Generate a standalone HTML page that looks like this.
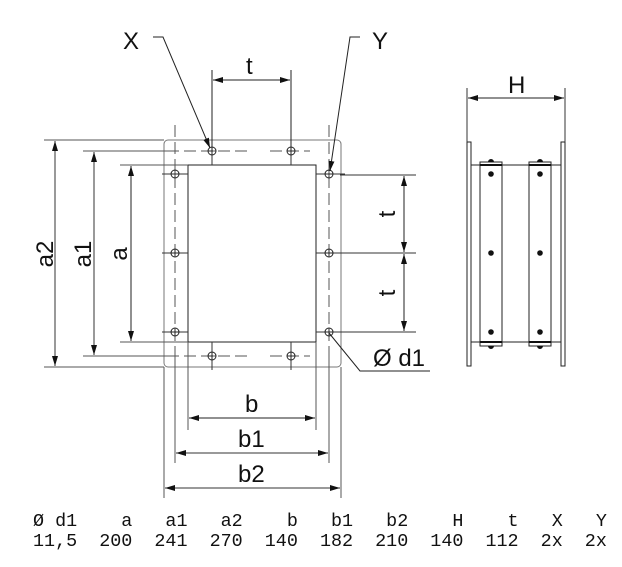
<!DOCTYPE html>
<html><head><style>
html,body{margin:0;padding:0;background:#fff}
svg{display:block}
text{font-family:"Liberation Sans",sans-serif;fill:#111}
.m{font-family:"Liberation Mono",monospace;font-size:18.4px;white-space:pre}
</style></head><body>
<svg width="622" height="567" viewBox="0 0 622 567" xmlns="http://www.w3.org/2000/svg">
<defs>
<marker id="ar" viewBox="0 0 10 6" refX="10" refY="3" markerWidth="10" markerHeight="6" orient="auto-start-reverse" markerUnits="userSpaceOnUse"><path d="M0,0L10,3L0,6z" fill="#111"/></marker>
<g id="h"><circle r="4" fill="none" stroke="#222" stroke-width="1"/><path d="M-4,0H4M0,-4V4" stroke="#222" stroke-width="0.8"/></g>
</defs>
<g fill="none" stroke-width="1">
<rect x="164" y="140" width="177" height="227" rx="4" stroke="#777"/>
<rect x="188" y="165" width="128" height="177" stroke="#222"/>
<g stroke="#555" stroke-dasharray="12,5">
<path d="M150,151H250M270,151H310M150,356H250M270,356H310"/>
<path d="M175,125V380M329,125V380"/>
</g>
<g stroke="#333">
<path d="M162,174H188M316,174H345M162,253H188M316,253H345M162,332H188M316,332H345"/>
<path d="M212,140V165M291,140V165M212,342V370M291,342V370"/>
</g>
<path d="M44,140H164M83,151H175M120,165H188M44,367H164M83,356H175M120,342H188" stroke="#555"/>
<path d="M55,141V366" stroke="#333" marker-start="url(#ar)" marker-end="url(#ar)"/>
<path d="M94,152V355" stroke="#333" marker-start="url(#ar)" marker-end="url(#ar)"/>
<path d="M131,166V341" stroke="#222" marker-start="url(#ar)" marker-end="url(#ar)"/>
<path d="M188,342V430M316,342V430M175,356V463M329,356V463M164,367V498M341,367V498" stroke="#555"/>
<path d="M189,418H315" stroke="#222" marker-start="url(#ar)" marker-end="url(#ar)"/>
<path d="M176,453H328" stroke="#333" marker-start="url(#ar)" marker-end="url(#ar)"/>
<path d="M165,488H340" stroke="#333" marker-start="url(#ar)" marker-end="url(#ar)"/>
<path d="M212,70V151M291,70V151" stroke="#222"/>
<path d="M213,80H290" stroke="#222" marker-start="url(#ar)" marker-end="url(#ar)"/>
<path d="M340,175H416M340,253H416M340,332H416" stroke="#333"/>
<path d="M404,176V252" stroke="#222" marker-start="url(#ar)" marker-end="url(#ar)"/>
<path d="M404,254V331" stroke="#222" marker-start="url(#ar)" marker-end="url(#ar)"/>
<path d="M153,37H163L210,148" stroke="#222" marker-end="url(#ar)"/>
<path d="M360,37H350L330,171" stroke="#222" marker-end="url(#ar)"/>
<path d="M329,333L360,371H430" stroke="#222"/>
<rect x="467" y="142" width="4" height="224" stroke="#222"/>
<rect x="561" y="142" width="4" height="224" stroke="#222"/>
<path d="M471,165H561M471,342H561" stroke="#222"/>
<rect x="480" y="162" width="22" height="184" stroke="#222" fill="#fff"/>
<rect x="529" y="162" width="22" height="184" stroke="#222" fill="#fff"/>
<path d="M480,165H502M529,165H551M480,342H502M529,342H551" stroke="#111" stroke-width="2"/>
<path d="M467,88V142M565,88V142" stroke="#333"/>
<path d="M468,98H564" stroke="#222" marker-start="url(#ar)" marker-end="url(#ar)"/>
</g>
<g fill="#111">
<circle cx="491" cy="174" r="2.8"/><circle cx="491" cy="253" r="2.8"/><circle cx="491" cy="332" r="2.8"/>
<circle cx="540" cy="174" r="2.8"/><circle cx="540" cy="253" r="2.8"/><circle cx="540" cy="332" r="2.8"/>
<path d="M488,162a3,3 0 0 1 6,0zM537,162a3,3 0 0 1 6,0zM488,346a3,3 0 0 0 6,0zM537,346a3,3 0 0 0 6,0z"/>
</g>
<use href="#h" x="212" y="151"/><use href="#h" x="291" y="151"/>
<use href="#h" x="212" y="356"/><use href="#h" x="291" y="356"/>
<use href="#h" x="175" y="174"/><use href="#h" x="175" y="253"/><use href="#h" x="175" y="332"/>
<use href="#h" x="329" y="174"/><use href="#h" x="329" y="253"/><use href="#h" x="329" y="332"/>
<g font-size="24">
<text x="123" y="49">X</text>
<text x="372" y="49">Y</text>
<text x="246" y="74">t</text>
<text x="508" y="93">H</text>
<text x="245" y="412">b</text>
<text x="238" y="447">b1</text>
<text x="238" y="482">b2</text>
<text x="373" y="366">Ø d1</text>
<text transform="translate(53,254) rotate(-90)" text-anchor="middle">a2</text>
<text transform="translate(91,254) rotate(-90)" text-anchor="middle">a1</text>
<text transform="translate(127,254) rotate(-90)" text-anchor="middle">a</text>
<text transform="translate(395,214) rotate(-90)" text-anchor="middle">t</text>
<text transform="translate(395,293) rotate(-90)" text-anchor="middle">t</text>
</g>
<text class="m" x="33" y="526">Ø d1    a   a1   a2    b   b1   b2    H    t   X   Y</text>
<text class="m" x="33" y="546">11,5  200  241  270  140  182  210  140  112  2x  2x</text>
</svg>
</body></html>
